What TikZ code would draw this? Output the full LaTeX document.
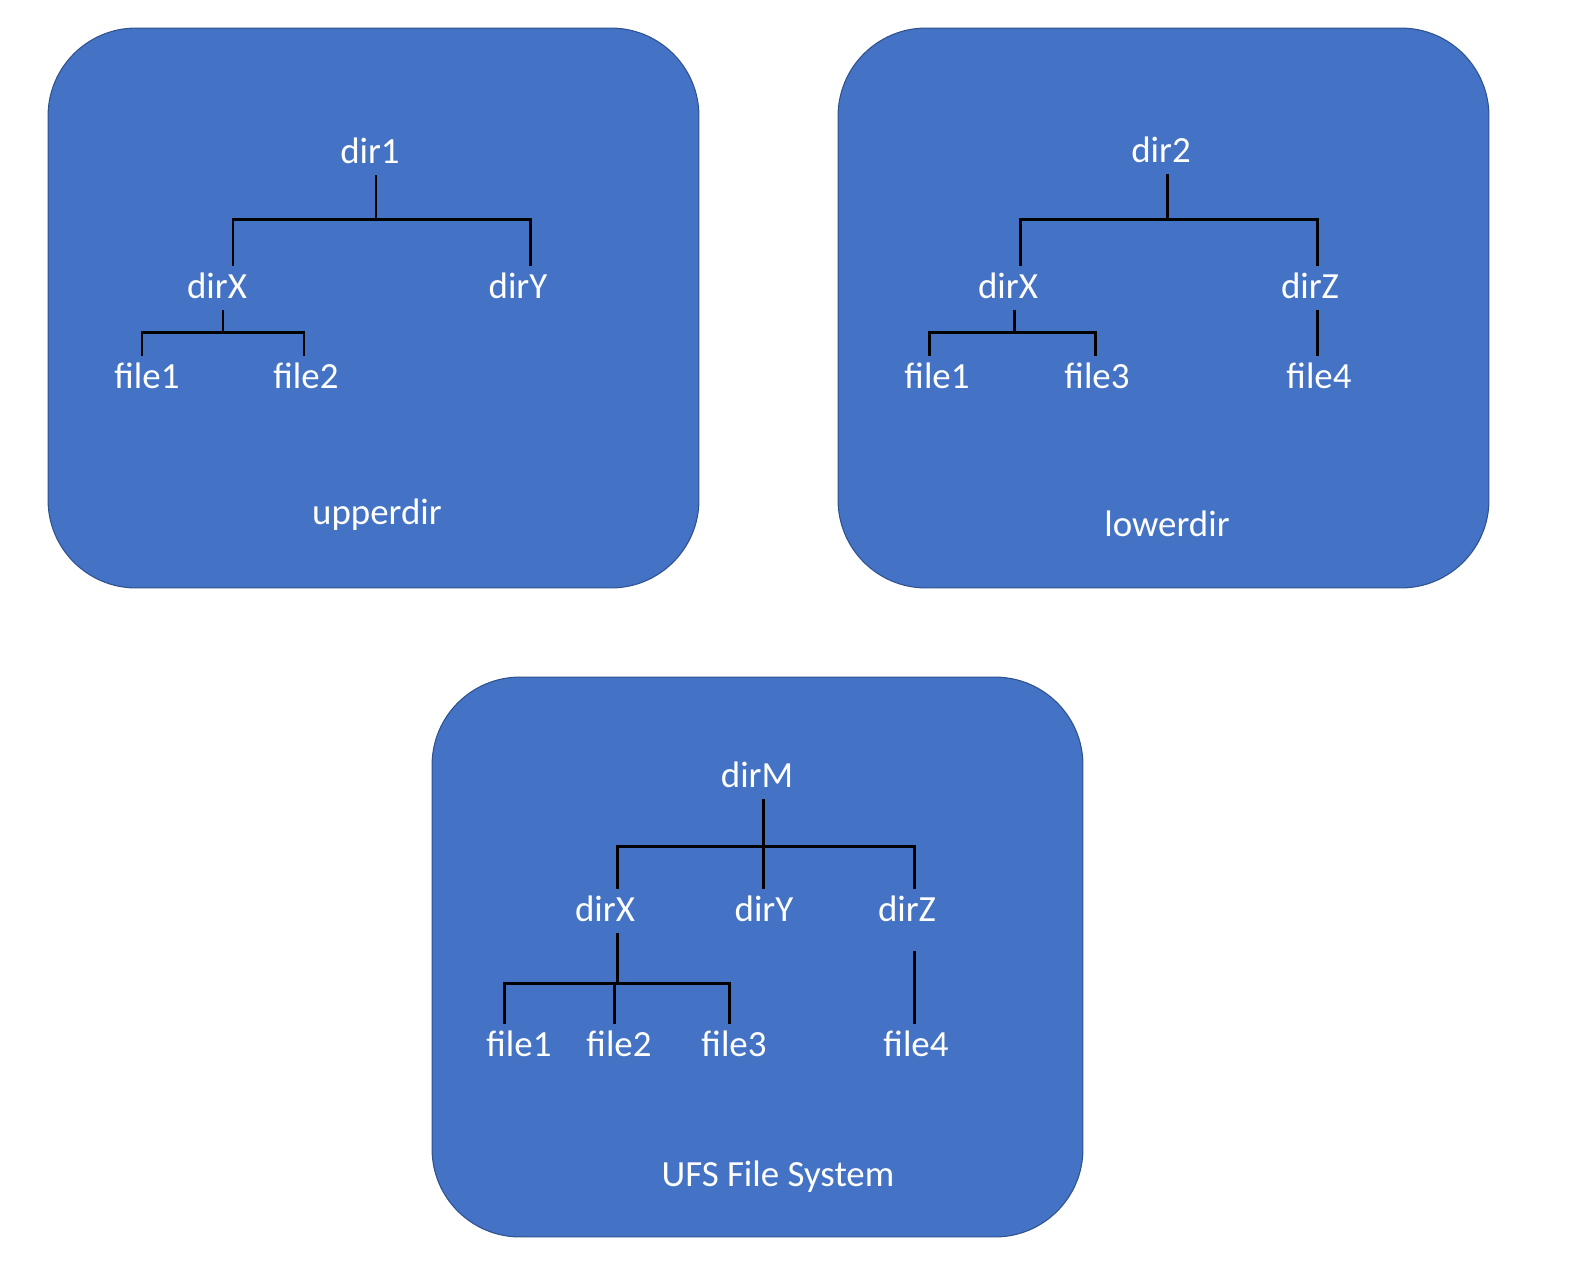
\documentclass[tikz,border=0pt]{standalone}
\usepackage{fontspec}
\setmainfont{Carlito}
\definecolor{fsblue}{HTML}{4472C4}
\definecolor{fsedge}{HTML}{2F528F}
\tikzset{
  fsbox/.style={draw=fsedge, line width=0.6pt, fill=fsblue, rounded corners=1.76cm, minimum width=13.02cm, minimum height=11.2cm, inner sep=0pt},
  entry/.style={text=white, font=\fontsize{21}{25}\selectfont, inner sep=0pt, text height=1.2em, text depth=0pt, minimum height=0.88cm},
  branch/.style={draw=black, line width=1.7pt},
}
\begin{document}
\begin{tikzpicture}[x=0.02cm, y=-0.02cm]
\useasboundingbox (0,0) rectangle (1584,1275);
\node[fsbox] (upper) at (373.5,308) {};
\node[fsbox] (lower) at (1163.5,308) {};
\node[fsbox] (ufs) at (757.5,957) {};
\node[entry] (upperlbl) at (377,514) {upperdir};
\node[entry] (lowerlbl) at (1167,526) {lowerdir};
\node[entry] (ufslbl) at (778,1176) {UFS File System};

\node[entry] (u-dir1) at (370,153) {dir1};
\node[entry] (u-dirX) at (217,288) {dirX};
\node[entry] (u-dirY) at (518,288) {dirY};
\node[entry] (u-file1) at (147,378) {file1};
\node[entry] (u-file2) at (306,378) {file2};
\coordinate (u-hub) at (376,219);
\coordinate (u-barL) at (233,219);
\coordinate (u-barR) at (530,219);
\coordinate (u-xhub) at (223,332);
\coordinate (u-xbarL) at (142,332);
\coordinate (u-xbarR) at (304,332);
\draw[branch] (u-dir1.south -| u-hub) -- (u-hub);
\draw[branch] (u-dirX.north -| u-barL) -- (u-barL) -- (u-barR) -- (u-dirY.north -| u-barR);
\draw[branch] (u-dirX.south -| u-xhub) -- (u-xhub);
\draw[branch] (u-file1.north -| u-xbarL) -- (u-xbarL) -- (u-xbarR) -- (u-file2.north -| u-xbarR);

\node[entry] (l-dir2) at (1161,152) {dir2};
\node[entry] (l-dirX) at (1008,288) {dirX};
\node[entry] (l-dirZ) at (1310,288) {dirZ};
\node[entry] (l-file1) at (937,378) {file1};
\node[entry] (l-file3) at (1097,378) {file3};
\node[entry] (l-file4) at (1319,378) {file4};
\coordinate (l-hub) at (1167,219);
\coordinate (l-barL) at (1020,219);
\coordinate (l-barR) at (1317,219);
\coordinate (l-xhub) at (1014,332);
\coordinate (l-xbarL) at (929,332);
\coordinate (l-xbarR) at (1095,332);
\draw[branch] (l-dir2.south -| l-hub) -- (l-hub);
\draw[branch] (l-dirX.north -| l-barL) -- (l-barL) -- (l-barR) -- (l-dirZ.north -| l-barR);
\draw[branch] (l-dirX.south -| l-xhub) -- (l-xhub);
\draw[branch] (l-file1.north -| l-xbarL) -- (l-xbarL) -- (l-xbarR) -- (l-file3.north -| l-xbarR);
\draw[branch] (l-dirZ.south -| l-barR) -- (l-file4.north -| l-barR);

\node[entry] (m-dirM) at (757,777) {dirM};
\node[entry] (m-dirX) at (605,911) {dirX};
\node[entry] (m-dirY) at (764,911) {dirY};
\node[entry] (m-dirZ) at (907,911) {dirZ};
\node[entry] (m-file1) at (519,1046) {file1};
\node[entry] (m-file2) at (619,1046) {file2};
\node[entry] (m-file3) at (734,1046) {file3};
\node[entry] (m-file4) at (916,1046) {file4};
\coordinate (m-hub) at (763,846);
\coordinate (m-barL) at (617,846);
\coordinate (m-barR) at (914,846);
\coordinate (m-xhub) at (617,983);
\coordinate (m-xbarL) at (504,983);
\coordinate (m-xbarM) at (614,983);
\coordinate (m-xbarR) at (729,983);
\draw[branch] (m-dirM.south -| m-hub) -- (m-hub) -- (m-dirY.north -| m-hub);
\draw[branch] (m-dirX.north -| m-barL) -- (m-barL) -- (m-barR) -- (m-dirZ.north -| m-barR);
\draw[branch] (m-dirX.south -| m-xhub) -- (m-xhub);
\draw[branch] (m-file1.north -| m-xbarL) -- (m-xbarL) -- (m-xbarR) -- (m-file3.north -| m-xbarR);
\draw[branch] (m-xbarM) -- (m-file2.north -| m-xbarM);
\draw[branch, shorten <=0.36cm] (m-dirZ.south -| m-barR) -- (m-file4.north -| m-barR);
\end{tikzpicture}
\end{document}
